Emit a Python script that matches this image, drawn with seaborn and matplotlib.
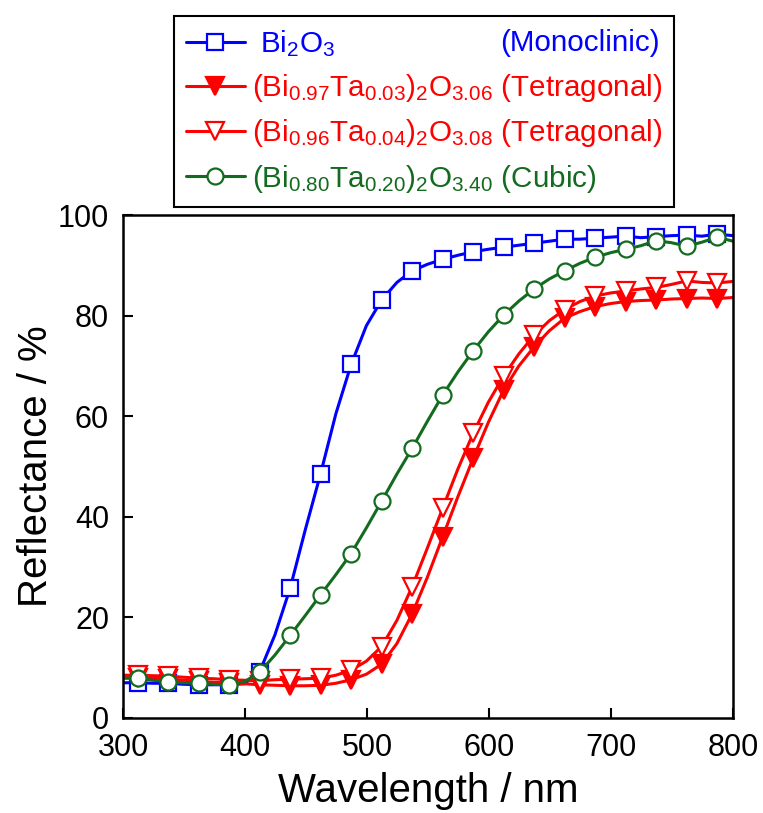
import matplotlib
matplotlib.use("Agg")
import matplotlib.pyplot as plt
from matplotlib.lines import Line2D
import pandas as pd
import seaborn as sns

# Wavelength grid (nm); open/filled symbols sit on every other point, 312-787 nm
wavelength = [300, 312, 324.5, 337, 349.5, 362, 374.5, 387, 399.5, 412,
              424.5, 437, 449.5, 462, 474.5, 487, 499.5, 512, 524.5, 537,
              549.5, 562, 574.5, 587, 599.5, 612, 624.5, 637, 649.5, 662,
              674.5, 687, 699.5, 712, 724.5, 737, 749.5, 762, 774.5, 787, 800]

# Diffuse reflectance (%)
bi2o3 = [7.0, 7.0, 6.9, 6.9, 6.7, 6.6, 6.6, 6.6, 6.8, 9.2,
         16.5, 25.8, 37.5, 48.6, 60.5, 70.3, 78.0, 83.1, 86.6, 88.9,
         90.2, 91.2, 92.0, 92.7, 93.2, 93.6, 94.0, 94.4, 94.8, 95.2,
         95.2, 95.4, 95.6, 95.8, 95.5, 95.7, 95.9, 96.0, 95.8, 96.2, 95.9]

ta003 = [8.0, 8.0, 7.9, 7.8, 7.5, 7.3, 7.1, 7.0, 6.8, 6.6,
         6.5, 6.4, 6.4, 6.5, 6.9, 7.6, 8.7, 10.7, 14.8, 20.7,
         28.0, 36.0, 44.0, 51.6, 58.8, 65.2, 70.0, 73.8, 77.0, 79.5,
         80.8, 81.8, 82.4, 82.8, 83.0, 83.1, 83.3, 83.4, 83.5, 83.4, 83.6]

ta004 = [8.5, 8.5, 8.4, 8.3, 8.1, 7.9, 7.8, 7.6, 7.5, 7.4,
         7.6, 7.7, 7.8, 7.9, 8.5, 9.5, 11.3, 14.2, 19.4, 26.1,
         33.8, 41.7, 49.5, 56.6, 62.8, 68.0, 72.4, 76.1, 79.0, 81.2,
         82.8, 83.9, 84.5, 84.9, 85.3, 85.6, 86.2, 86.9, 86.6, 86.5, 86.8]

ta020 = [7.9, 7.9, 7.5, 7.2, 7.0, 6.9, 6.7, 6.6, 7.2, 9.1,
         12.5, 16.4, 20.4, 24.5, 28.5, 32.7, 37.8, 43.1, 48.5, 53.6,
         59.0, 64.2, 68.8, 73.0, 76.8, 80.1, 82.9, 85.3, 87.3, 88.9,
         90.4, 91.6, 92.5, 93.2, 93.9, 94.9, 94.5, 93.8, 94.6, 95.6, 94.8]

labels = [r" $\mathregular{Bi_2O_3}$",
          r"$\mathregular{(Bi_{0.97}Ta_{0.03})_2O_{3.06}}$ (Tetragonal)",
          r"$\mathregular{(Bi_{0.96}Ta_{0.04})_2O_{3.08}}$ (Tetragonal)",
          r"$\mathregular{(Bi_{0.80}Ta_{0.20})_2O_{3.40}}$ (Cubic)"]
phase_bi2o3 = "(Monoclinic)"

x_ticks = [300, 400, 500, 600, 700, 800]
y_ticks = [0, 20, 40, 60, 80, 100]

sns.set_style("ticks")
plt.rcParams["font.family"] = ["Liberation Sans", "DejaVu Sans"]
plt.rcParams["mathtext.fontset"] = "custom"
plt.rcParams["mathtext.rm"] = "Liberation Sans"
plt.rcParams["mathtext.it"] = "Liberation Sans:italic"
plt.rcParams["mathtext.bf"] = "Liberation Sans:bold"
for key in ("text.color", "axes.labelcolor", "xtick.color", "ytick.color",
            "axes.edgecolor"):
    plt.rcParams[key] = "black"

BLUE = "#0000ff"
RED = "#ff0000"
GREEN = "#136b1f"

fig = plt.figure(figsize=(7.63, 8.13), dpi=100)
ax = fig.add_axes([0.1612, 0.1169, 0.7995, 0.6186])

mark_idx = list(range(1, len(wavelength) - 1, 2))

styles = [
    (bi2o3, BLUE, "s", "white", 12),
    (ta003, RED, "v", RED, 13),
    (ta004, RED, "v", "white", 13),
    (ta020, GREEN, "o", "white", 11.5),
]

handles = []
for values, color, marker, face, size in styles:
    df = pd.DataFrame({"wavelength": wavelength, "reflectance": values})
    sns.lineplot(data=df, x="wavelength", y="reflectance", ax=ax,
                 color=color, lw=2.2, marker=marker, markevery=mark_idx,
                 ms=size, mfc=face, mec=color, mew=1.6,
                 errorbar=None, legend=False)
    handles.append(Line2D([], [], color=color, lw=2.2, marker=marker,
                          ms=size, mfc=face, mec=color, mew=1.6))

ax.set_xlim(300, 800)
ax.set_ylim(0, 100)
ax.set_xticks(x_ticks)
ax.set_yticks(y_ticks)
ax.tick_params(direction="in", length=7, width=1.5, labelsize=22,
               top=False, right=False, colors="black")
ax.tick_params(axis="x", pad=11)
ax.tick_params(axis="y", pad=10)
for side in ax.spines.values():
    side.set_linewidth(1.8)
    side.set_color("black")
    side.set_visible(True)
ax.set_xlabel("Wavelength / nm", fontsize=29, labelpad=6)
ax.set_ylabel("Reflectance / %", fontsize=29, labelpad=2)

leg = fig.legend(handles, labels, loc="lower left",
                 bbox_to_anchor=(0.228, 0.746, 0.655, 0.235), mode="expand",
                 fontsize=21.3, handlelength=2.0, handletextpad=0.25,
                 labelspacing=0.45, borderpad=0.4, borderaxespad=0.0,
                 frameon=True, fancybox=False, shadow=False, framealpha=1.0)
leg.get_frame().set_edgecolor("black")
leg.get_frame().set_linewidth(1.5)
for text, (_, color, _, _, _) in zip(leg.get_texts(), styles):
    text.set_color(color)

# Phase name of the first entry, right-aligned inside the legend box
fig.canvas.draw()
inv = fig.transFigure.inverted()
row = leg.get_texts()[0].get_window_extent()
box = leg.get_frame().get_window_extent()
x_right = inv.transform((box.x1 - 14, 0))[0]
y_mid = inv.transform((0, (row.y0 + row.y1) / 2))[1]
fig.text(x_right, y_mid, phase_bi2o3, color=BLUE, fontsize=21.3,
         ha="right", va="center", zorder=10)

fig.savefig("out.png", dpi=100)
